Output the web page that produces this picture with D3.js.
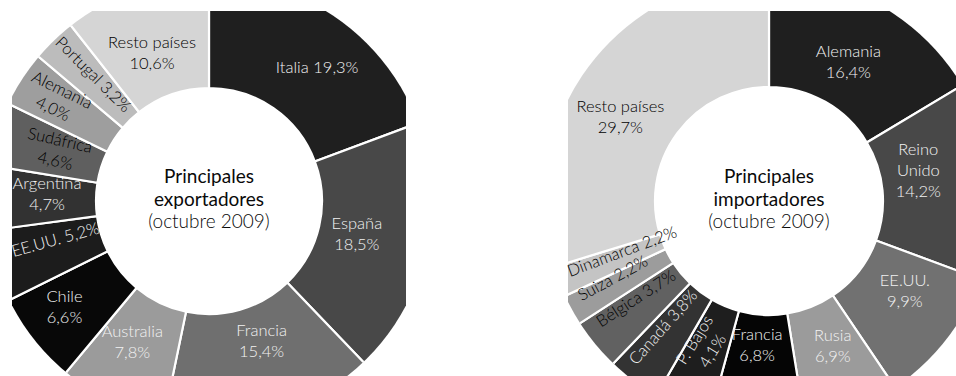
<!DOCTYPE html>
<html><head><meta charset="utf-8">
<script src="https://cdn.jsdelivr.net/npm/d3@7"></script>
<style>body{margin:0;background:#fff}svg{display:block}</style>
</head><body>
<svg id="c" width="956" height="376"></svg>
<script>
// ---- data ----
const expCountries = ["Italia","España","Francia","Australia","Chile","EE.UU.","Argentina","Sudáfrica","Alemania","Portugal","Resto países"];
const expValues    = [19.3,18.5,15.4,7.8,6.6,5.2,4.7,4.6,4.0,3.2,10.6];
const impCountries = ["Alemania","Reino Unido","EE.UU.","Rusia","Francia","P. Bajos","Canadá","Bélgica","Suiza","Dinamarca","Resto países"];
const impValues    = [16.4,14.2,9.9,6.9,6.8,4.1,3.8,3.7,2.2,2.2,29.7];
const expTitle = ["Principales","exportadores","(octubre 2009)"];
const impTitle = ["Principales","importadores","(octubre 2009)"];

// ---- layout / style ----
const fmt = v => d3.format(".1f")(v).replace(".", ",") + "%";
const charts = [
  { names: expCountries, values: expValues, title: expTitle,
    cx: 209, cy: 201, halfW: 197, top: 11, R: 223, r: 113,
    fills: ["#1f1f1f","#484848","#6f6f6f","#9b9b9b","#080808","#1c1c1c","#323232","#5f5f5f","#9e9e9e","#bcbcbc","#d5d5d5"],
    dark:  [0,0,0,0,0,0,0,1,1,1,1],
    lab: [
      {m:1, rot:0, dx:14, dy:2},
      {m:2, rot:0, dx:-13, dy:-4},
      {m:2, rot:0, dx:7, dy:-19},
      {m:2, rot:0, dx:-5, dy:-8},
      {m:2, rot:0, dx:-15, dy:3},
      {m:1, rot:-15.5, dx:4, dy:-10},
      {m:2, rot:0, dx:3, dy:-5},
      {m:2, rot:13, dx:6, dy:-1},
      {m:2, rot:26, dx:-13, dy:-12},
      {m:1, rot:45, dx:-1, dy:-8},
      {m:2, rot:0, dx:-3, dy:7}
    ]},
  { names: impCountries, values: impValues, title: impTitle,
    cx: 769, cy: 201, halfW: 201, top: 11, R: 225, r: 114,
    fills: ["#1f1f1f","#484848","#717171","#9b9b9b","#050505","#1e1e1e","#333333","#616161","#9c9c9c","#c4c4c4","#d5d5d5"],
    dark:  [0,0,0,0,0,0,0,1,1,1,1],
    lab: [
      {m:2, rot:0, dx:-2, dy:4},
      {m:3, rot:0, dx:-15, dy:-16},
      {m:2, rot:0, dx:6, dy:-12},
      {m:2, rot:0, dx:3, dy:-9},
      {m:2, rot:0, dx:-3, dy:-21},
      {m:2, rot:-58, dx:-2, dy:-8},
      {m:1, rot:-48.5, dx:-7, dy:-6},
      {m:1, rot:-33, dx:-6, dy:-8},
      {m:1, rot:-28.5, dx:-12, dy:-3},
      {m:1, rot:-20.5, dx:7, dy:-9},
      {m:2, rot:0, dx:-16, dy:14}
    ]}
];
const FONT = "Lato, 'Open Sans', sans-serif";
const LFS = 16.5, LLH = 21;
const TFS = 19, TLH = 22.5;
const LR = 165;

const svg = d3.select("#c");
const defs = svg.append("defs");

charts.forEach((c, ci) => {
  const data = c.names.map((n, i) => ({name: n, value: c.values[i], i}));
  const pie = d3.pie().value(d => d.value).sort(null);
  const arcs = pie(data);
  const arc = d3.arc().innerRadius(c.r).outerRadius(c.R + 40);
  const labArc = d3.arc().innerRadius(LR).outerRadius(LR);

  defs.append("clipPath").attr("id", "rect" + ci)
    .append("rect")
    .attr("x", c.cx - c.halfW).attr("y", c.top)
    .attr("width", 2 * c.halfW).attr("height", 2 * (c.cy - c.top));
  defs.append("clipPath").attr("id", "circ" + ci)
    .append("circle").attr("cx", c.cx).attr("cy", c.cy).attr("r", c.R);

  const outer = svg.append("g").attr("clip-path", `url(#rect${ci})`);
  const inner = outer.append("g").attr("clip-path", `url(#circ${ci})`);
  const g = inner.append("g").attr("transform", `translate(${c.cx},${c.cy})`);

  g.selectAll("path.slice").data(arcs).enter().append("path")
    .attr("class", "slice")
    .attr("d", arc)
    .attr("fill", d => c.fills[d.index])
    .attr("stroke", "#fff")
    .attr("stroke-width", 2.2)
    .attr("stroke-linejoin", "miter");

  const lg = svg.append("g").attr("transform", `translate(${c.cx},${c.cy})`);
  arcs.forEach(d => {
    const L = c.lab[d.index];
    const [px, py] = labArc.centroid(d);
    let lines;
    const v = fmt(d.data.value);
    if (L.m === 1) lines = [d.data.name + " " + v];
    else if (L.m === 2) lines = [d.data.name, v];
    else lines = d.data.name.split(" ").concat([v]);
    const t = lg.append("text")
      .attr("transform", `translate(${px + L.dx},${py + L.dy}) rotate(${L.rot})`)
      .attr("text-anchor", "middle")
      .attr("font-family", FONT)
      .attr("font-weight", 300)
      .attr("font-size", LFS)
      .attr("fill", c.dark[d.index] ? "#000" : "#f2f2f2");
    lines.forEach((s, k) => {
      t.append("tspan").attr("x", 0)
        .attr("y", (k - (lines.length - 1) / 2) * LLH + LFS * 0.36)
        .text(s);
    });
  });

  const tt = svg.append("text")
    .attr("transform", `translate(${c.cx},${c.cy - 2})`)
    .attr("text-anchor", "middle")
    .attr("font-family", FONT)
    .attr("font-size", TFS)
    .attr("fill", "#0a0a0a");
  c.title.forEach((s, k) => {
    tt.append("tspan").attr("x", 0)
      .attr("y", (k - 1) * TLH + TFS * 0.36)
      .attr("font-weight", k < 2 ? 400 : 300)
      .text(s);
  });
});
</script>
</body></html>
